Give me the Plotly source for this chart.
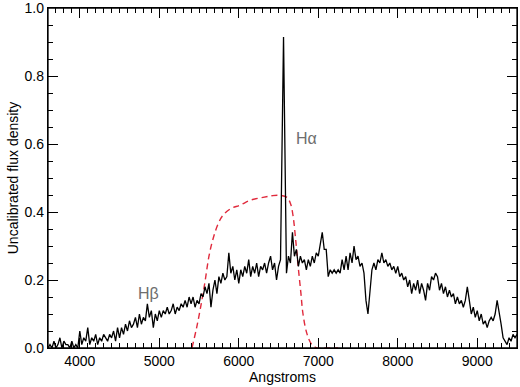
import plotly.graph_objects as go

# Spectrum wavelengths (Angstrom) and flux (uncalibrated)
wave_blue = list(range(3600, 6526, 25))
wave_halpha = [6563]
wave_red = list(range(6600, 9501, 25))
wavelength = wave_blue + wave_halpha + wave_red

flux_blue = [
    0.00, 0.01, 0.00, 0.02, 0.00, 0.01, 0.03, 0.00, 0.02, 0.01,
    0.01, 0.00, 0.02, 0.00, 0.01, 0.00, 0.05, 0.01, 0.03, 0.02,
    0.06, 0.01, 0.03, 0.02, 0.04, 0.01, 0.03, 0.02, 0.04, 0.03,
    0.02, 0.04, 0.03, 0.05, 0.02, 0.06, 0.03, 0.06, 0.04, 0.07,
    0.05, 0.08, 0.06, 0.07, 0.09, 0.06, 0.10, 0.07, 0.09, 0.08,
    0.13, 0.09, 0.11, 0.06, 0.10, 0.08, 0.11, 0.09, 0.11, 0.10,
    0.12, 0.10, 0.11, 0.13, 0.10, 0.12, 0.11, 0.13, 0.12, 0.14,
    0.12, 0.15, 0.13, 0.15, 0.12, 0.14, 0.13, 0.16, 0.15, 0.18,
    0.16, 0.19, 0.12, 0.17, 0.20, 0.16, 0.21, 0.19, 0.22, 0.20,
    0.21, 0.28, 0.22, 0.24, 0.20, 0.23, 0.19, 0.23, 0.21, 0.24,
    0.22, 0.26, 0.21, 0.24, 0.22, 0.25, 0.21, 0.24, 0.23, 0.25,
    0.22, 0.25, 0.27, 0.23, 0.25, 0.20, 0.24, 0.26,
]
flux_halpha = [0.915]
flux_red = [
    0.22, 0.27, 0.25, 0.34, 0.27, 0.29, 0.24, 0.27, 0.25, 0.26,
    0.23, 0.26, 0.24, 0.27, 0.25, 0.28, 0.27, 0.30, 0.34, 0.29,
    0.29, 0.21, 0.23, 0.22, 0.23, 0.22, 0.23, 0.22, 0.26, 0.23,
    0.27, 0.23, 0.28, 0.25, 0.30, 0.26, 0.27, 0.24, 0.25, 0.22,
    0.14, 0.10, 0.18, 0.23, 0.25, 0.23, 0.26, 0.25, 0.28, 0.25,
    0.26, 0.24, 0.25, 0.23, 0.24, 0.22, 0.24, 0.21, 0.22, 0.20,
    0.21, 0.18, 0.20, 0.16, 0.19, 0.17, 0.20, 0.16, 0.19, 0.17,
    0.14, 0.19, 0.17, 0.21, 0.20, 0.22, 0.21, 0.17, 0.19, 0.16,
    0.18, 0.15, 0.17, 0.15, 0.16, 0.13, 0.15, 0.13, 0.14, 0.12,
    0.14, 0.18, 0.14, 0.10, 0.12, 0.09, 0.11, 0.08, 0.10, 0.07,
    0.08, 0.06, 0.08, 0.09, 0.08, 0.10, 0.14, 0.11, 0.07, 0.03,
    0.02, 0.01, 0.03, 0.02, 0.04, 0.03, 0.04,
]
flux = flux_blue + flux_halpha + flux_red

# Filter transmission curve (scaled)
filter_wave = [5411, 5470, 5520, 5575, 5625, 5675, 5740, 5800, 5900, 6015,
               6150, 6305, 6420, 6518, 6606, 6650, 6682, 6715, 6745, 6780,
               6808, 6860, 6920, 6990, 7100, 7250]
filter_trans = [0.00, 0.06, 0.12, 0.195, 0.27, 0.32, 0.365, 0.39, 0.41, 0.42,
                0.435, 0.443, 0.448, 0.449, 0.443, 0.425, 0.39, 0.32, 0.245, 0.165,
                0.10, 0.04, 0.01, 0.00, 0.00, 0.00]

x_range = [3600, 9500]
y_range = [0, 1.0]
x_ticks = [4000, 5000, 6000, 7000, 8000, 9000]
y_ticks = [0.0, 0.2, 0.4, 0.6, 0.8, 1.0]

FONT = "Liberation Sans, Arial, Helvetica, sans-serif"

fig = go.Figure()
fig.add_trace(go.Scatter(x=filter_wave, y=filter_trans, mode="lines",
                         line=dict(color="#e02a3c", width=1.4, dash="6px,4px"),
                         line_shape="spline", showlegend=False, hoverinfo="skip"))
fig.add_trace(go.Scatter(x=wavelength, y=flux, mode="lines",
                         line=dict(color="black", width=1.3),
                         showlegend=False))

fig.add_annotation(x=6855, y=0.617, text="Hα", showarrow=False,
                   font=dict(family=FONT, size=16, color="#6e6e6e"))
fig.add_annotation(x=4858, y=0.16, text="Hβ", showarrow=False,
                   font=dict(family=FONT, size=16, color="#6e6e6e"))

# plot frame
fig.add_shape(type="rect", xref="paper", yref="paper", x0=0, x1=1, y0=0, y1=1,
              line=dict(color="black", width=1.3), layer="above")

axis_common = dict(showgrid=False, zeroline=False, showline=True,
                   linecolor="black", linewidth=1.3, mirror="allticks",
                   ticks="inside", tickcolor="black", tickwidth=1.3,
                   ticklen=10, ticklabeloverflow="allow",
                   tickfont=dict(family=FONT, size=14, color="black"))

fig.update_layout(
    xaxis=dict(range=x_range, tickvals=x_ticks,
               minor=dict(dtick=100, tick0=0, ticks="inside", ticklen=5,
                          tickcolor="black", tickwidth=1.2),
               title=dict(text="Angstroms", font=dict(family=FONT, size=14, color="black"),
                          standoff=2),
               **axis_common),
    yaxis=dict(range=y_range, tickvals=y_ticks, tickformat=".1f",
               minor=dict(dtick=0.05, tick0=0, ticks="inside", ticklen=5,
                          tickcolor="black", tickwidth=1.2),
               title=dict(text="Uncalibrated flux density",
                          font=dict(family=FONT, size=14, color="black"), standoff=2),
               **axis_common),
    width=520, height=387,
    margin=dict(l=48, r=3, t=8, b=39, autoexpand=False),
    plot_bgcolor="white", paper_bgcolor="white",
    font=dict(family=FONT, size=14, color="black"),
)

fig.write_html("out.html")
